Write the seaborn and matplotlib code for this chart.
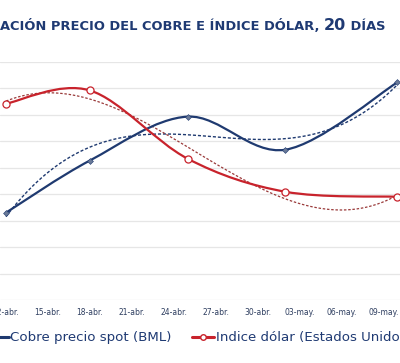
import numpy as np
import matplotlib
matplotlib.use('Agg')
import matplotlib.pyplot as plt
import seaborn as sns
from matplotlib.path import Path
from matplotlib.patches import PathPatch
from matplotlib.lines import Line2D

# datos (dias desde 12-abr., escala sin eje visible)
fechas = ['12-abr.', '18-abr.', '25-abr.', '02-may.', '10-may.']
dias = [0, 6, 13, 20, 28]
cobre = [3.30, 5.27, 6.93, 5.68, 8.22]
dolar = [7.42, 7.92, 5.34, 4.09, 3.90]

tick_dias = [0, 3, 6, 9, 12, 15, 18, 21, 24, 27]
tick_labels = ['12-abr.', '15-abr.', '18-abr.', '21-abr.', '24-abr.',
               '27-abr.', '30-abr.', '03-may.', '06-may.', '09-may.']

azul = '#1F3A70'
rojo = '#C8232C'
texto = '#1F3A73'

sns.set_style('white')
plt.rcParams['font.family'] = ['DejaVu Sans']

fig = plt.figure(figsize=(4.0, 3.63), dpi=100)
ax = fig.add_axes([0.0, 0.1736, 1.0, 0.656])


def linea_suave(ax, x, y, color, lw):
    # curva suavizada tipo Excel (Catmull-Rom -> Bezier)
    p = np.column_stack([x, y]).astype(float)
    pts = np.vstack([p[0], p, p[-1]])
    verts = [tuple(p[0])]
    codes = [Path.MOVETO]
    for i in range(1, len(pts) - 2):
        p0, p1, p2, p3 = pts[i - 1], pts[i], pts[i + 1], pts[i + 2]
        c1 = p1 + (p2 - p0) / 6.0
        c2 = p2 - (p3 - p1) / 6.0
        verts += [tuple(c1), tuple(c2), tuple(p2)]
        codes += [Path.CURVE4] * 3
    ax.add_patch(PathPatch(Path(verts, codes), fill=False, edgecolor=color,
                           lw=lw, capstyle='round', zorder=3))


# lineas de tendencia (polinomicas)
sns.regplot(x=dias, y=cobre, order=3, ci=None, scatter=False, ax=ax,
            line_kws=dict(color=azul, lw=1.0, ls=(0, (2.2, 1.4)), zorder=2))
sns.regplot(x=dias, y=dolar, order=3, ci=None, scatter=False, ax=ax,
            line_kws=dict(color='#9A3A3A', lw=0.9, ls=(0, (2.0, 1.4)), zorder=2))

linea_suave(ax, dias, cobre, azul, 1.6)
linea_suave(ax, dias, dolar, rojo, 1.6)

sns.scatterplot(x=dias, y=cobre, ax=ax, marker='D', s=9, color='#6A7A98',
                edgecolor=azul, linewidth=0.4, zorder=4)
sns.scatterplot(x=dias, y=dolar, ax=ax, marker='o', s=26, color='white',
                edgecolor=rojo, linewidth=0.9, zorder=4)

ax.set_xlim(-0.43, 28.2)
ax.set_ylim(0, 9)
ax.set_yticks(range(0, 10))
ax.set_yticklabels([])
ax.grid(axis='y', color='#E6E6E6', lw=0.9)
ax.set_xticks(tick_dias)
ax.set_xticklabels(tick_labels, fontsize=5.5, color='#2E3E60')
ax.tick_params(axis='x', length=0, pad=6)
ax.tick_params(axis='y', length=0)
for s in ax.spines.values():
    s.set_visible(False)
ax.set_xlabel('')
ax.set_ylabel('')

# titulo (recortado a la izquierda como en la imagen)
t1 = fig.text(0.0, 0.918, 'ACIÓN PRECIO DEL COBRE E ÍNDICE DÓLAR, ',
              fontsize=9.4, fontweight='bold', color=texto, va='baseline')
t2 = ax.annotate('20', xy=(1, 0), xycoords=t1, va='bottom', ha='left',
                 fontsize=11.5, fontweight='bold', color=texto,
                 annotation_clip=False)
ax.annotate(' DÍAS', xy=(1, 0), xycoords=t2, va='bottom', ha='left',
            fontsize=9.4, fontweight='bold', color=texto, annotation_clip=False)

handles = [Line2D([], [], color=azul, lw=2.2, marker='D', markersize=3),
           Line2D([], [], color=rojo, lw=2.2, marker='o', markersize=4,
                  markerfacecolor='white')]
fig.legend(handles, ['Cobre precio spot (BML)', 'Indice dólar (Estados Unidos)'],
           loc='center left', bbox_to_anchor=(-0.035, 0.069), ncol=2,
           frameon=False, fontsize=9.6, handlelength=1.7, handletextpad=0.12,
           columnspacing=1.5, borderpad=0, borderaxespad=0,
           labelcolor=texto)

fig.savefig('out.png', dpi=100)
